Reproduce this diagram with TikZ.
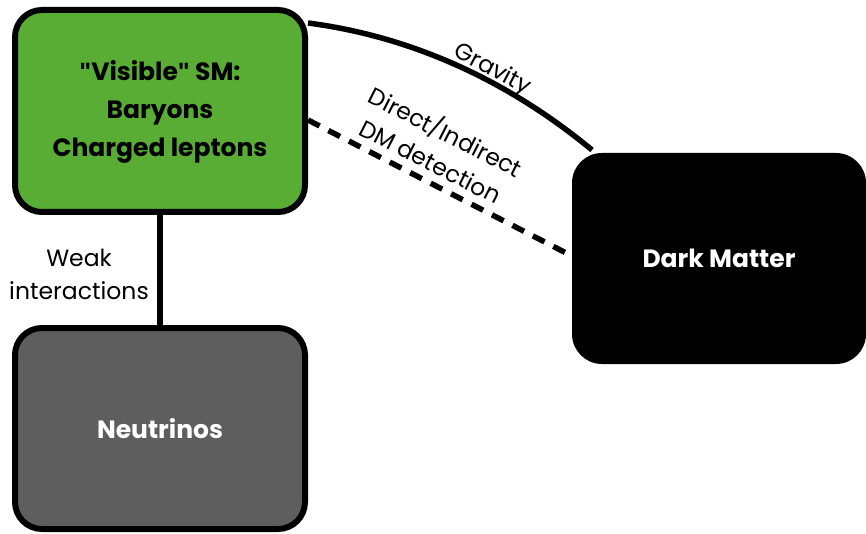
\documentclass[tikz,border=0pt]{standalone}
\usepackage{fontspec}
\setmainfont{Poppins}[Ligatures=ResetAll]
\newfontfamily\quotefont{Liberation Sans}[Ligatures=ResetAll]
\newcommand{\sq}{{\quotefont\bfseries"}}
\definecolor{smgreen}{RGB}{89,172,52}
\definecolor{nugray}{RGB}{94,94,94}
\begin{document}
\begin{tikzpicture}[x=1pt,y=-1pt,
  box/.style={rectangle, rounded corners=27pt, line width=6pt, draw=black,
    minimum width=290pt, minimum height=202pt, inner sep=0pt, align=center,
    font=\fontsize{25}{37}\selectfont\bfseries},
  link/.style={line width=5.5pt},
  lbl/.style={font=\fontsize{23.5}{33}\selectfont, align=center, inner sep=0pt}]
\useasboundingbox (0,0) rectangle (866,534);

% sectors
\node[box, fill=smgreen] (sm) at (160,111) {\raisebox{-3pt}{\begin{tabular}{@{}c@{}}\sq Visible\sq{} SM:\\[1pt]Baryons\\[1pt]Charged leptons\end{tabular}}};
\node[box, fill=nugray, text=white, minimum height=201pt] (nu) at (160,428.5) {\raisebox{-4pt}{Neutrinos}};
\node[box, draw=none, fill=black, text=white, rounded corners=30pt,
  minimum width=294pt, minimum height=211pt] (dm) at (719,258.5) {\raisebox{-2pt}{Dark Matter}};

% interactions
\draw[link] (sm.south) -- (nu.north);
\draw[link] ([yshift=-16pt]sm.north east) .. controls (408,36) and (505,78) .. ([xshift=23pt]dm.north west);
\draw[link, dash pattern=on 13pt off 10pt] ([yshift=-9pt]sm.east) -- ([yshift=4pt]dm.west);

% labels
\node[lbl] (weak) at (79,274) {Weak\\interactions};
\node[lbl, rotate=-28] (grav) at (492,70) {Gravity};
\node[lbl, rotate=-27] (det) at (439,145) {Direct/Indirect\\DM detection};
\end{tikzpicture}
\end{document}
